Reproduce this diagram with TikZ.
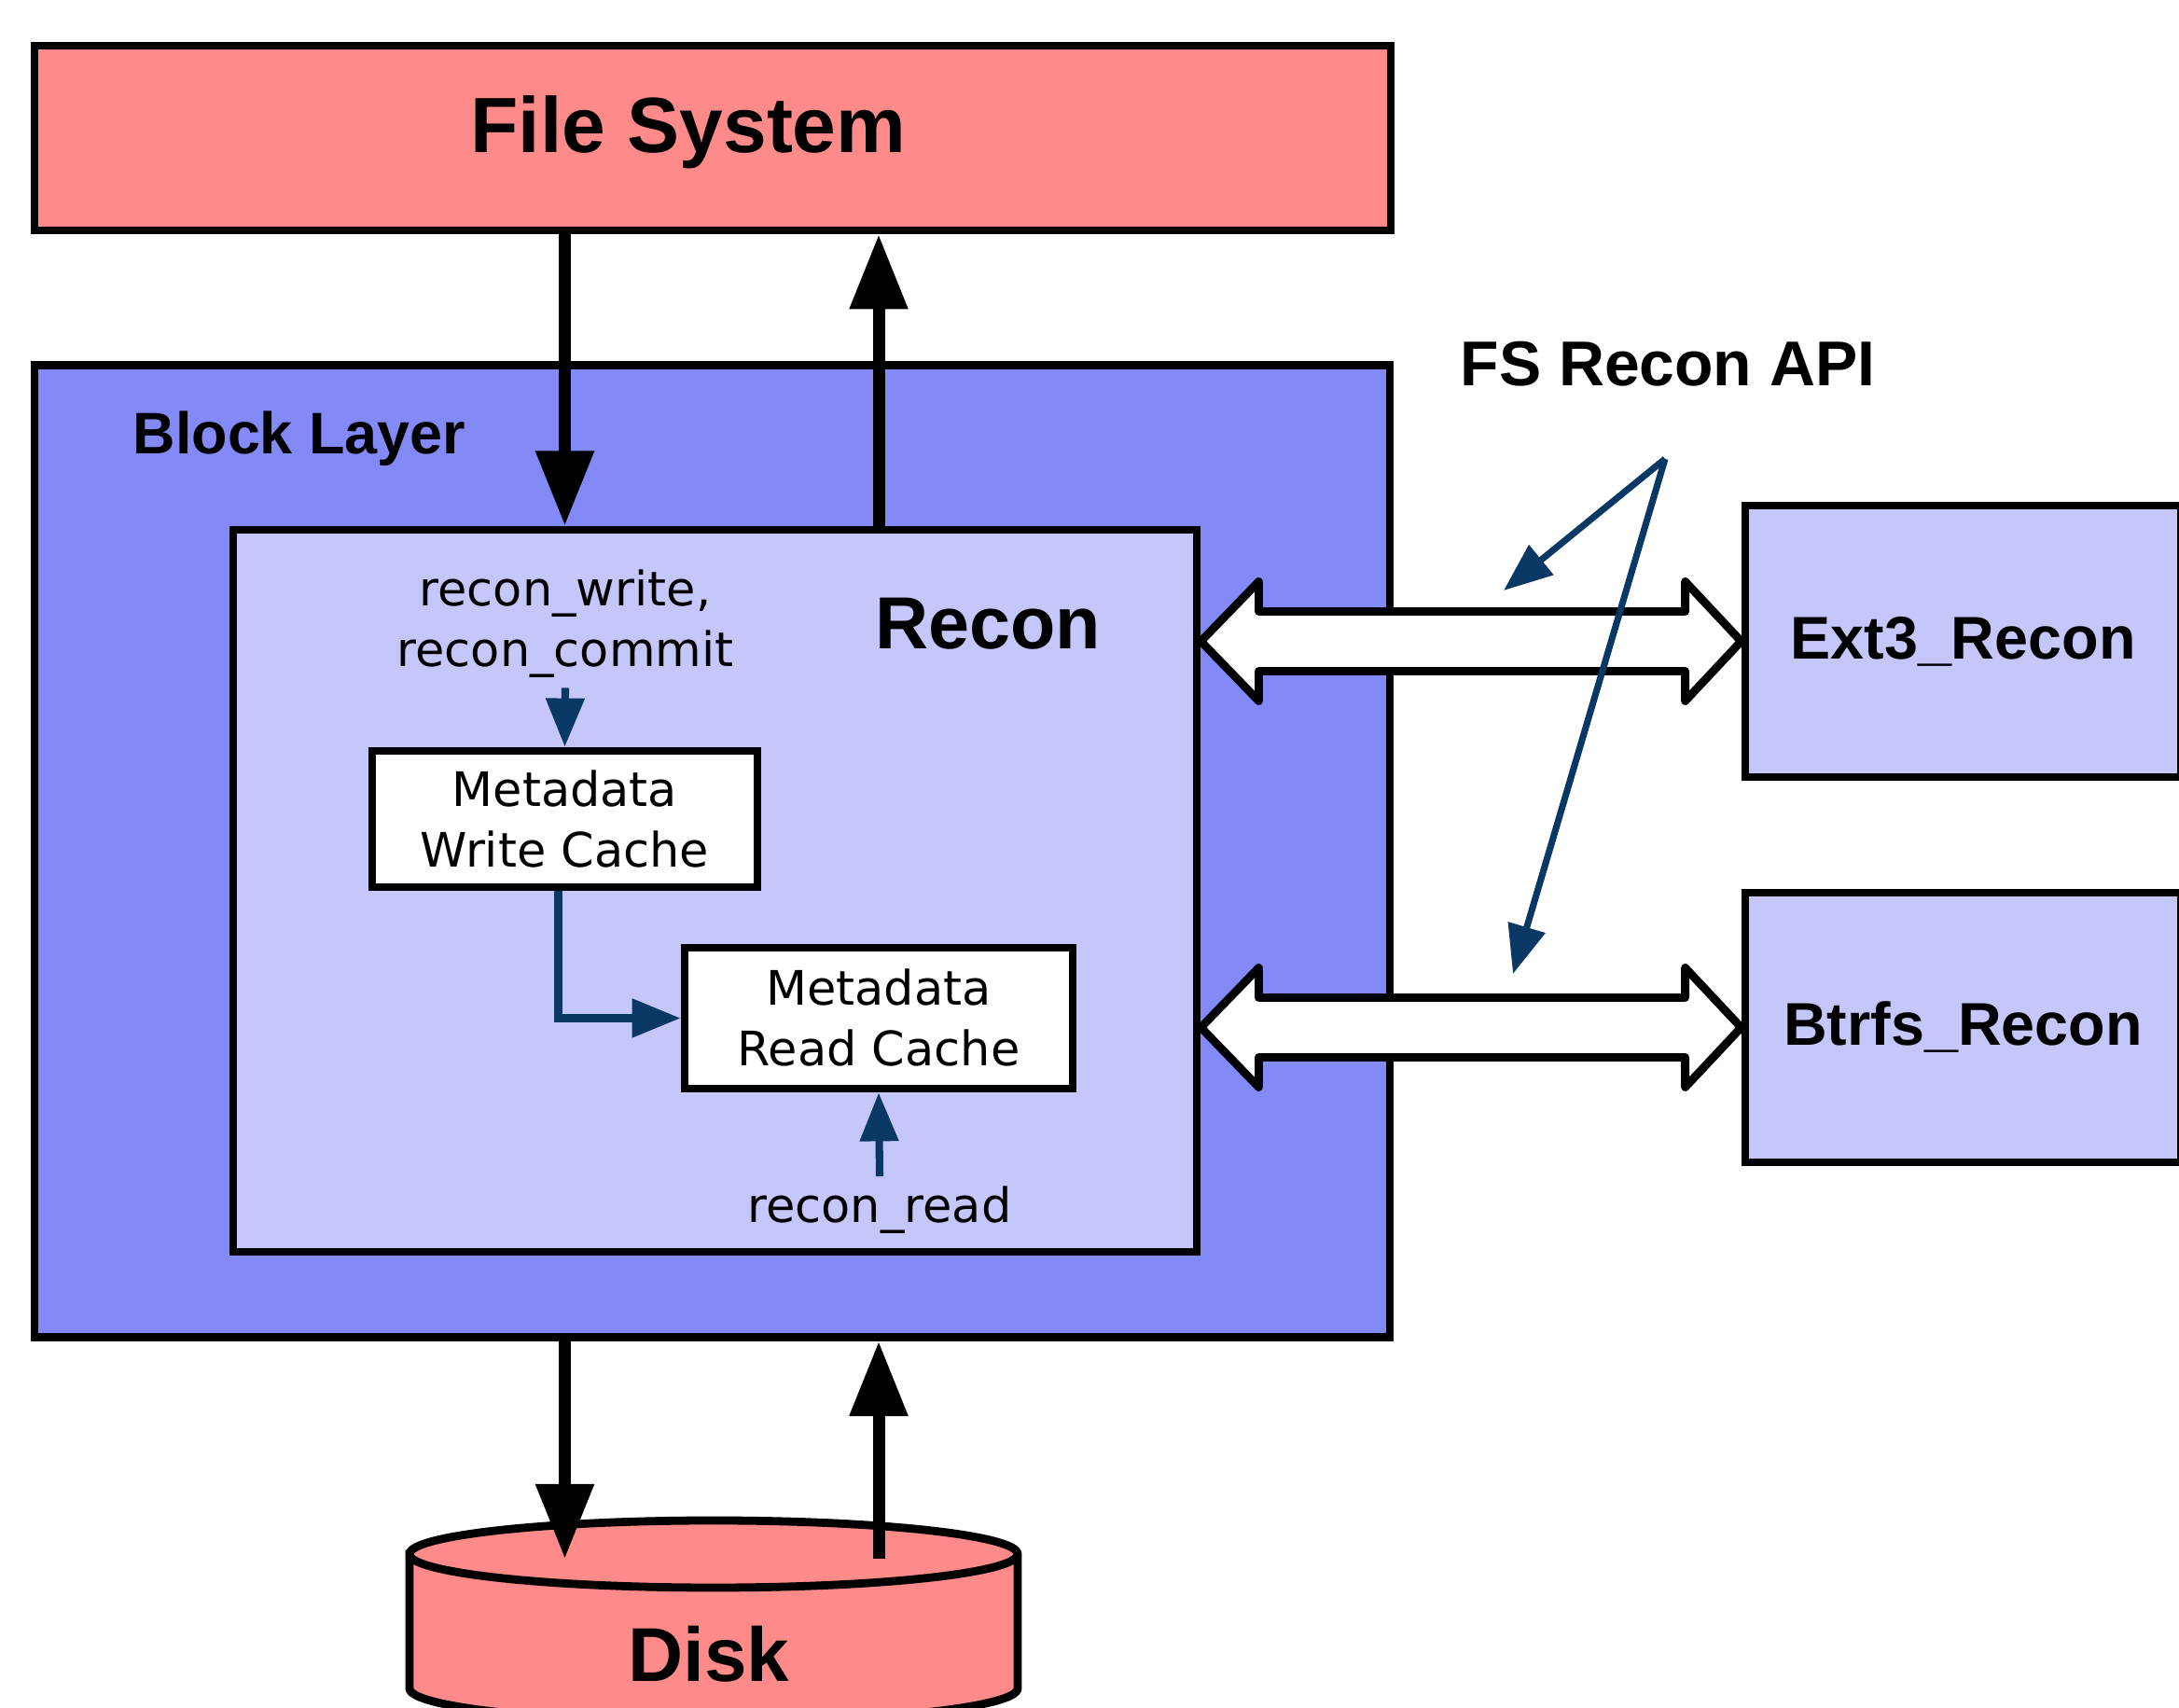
\documentclass[tikz,border=0pt]{standalone}
\usepackage{fontspec}
\setmainfont{Liberation Sans}
\newfontfamily\verafont{DejaVu Sans}
\usepackage{tikz}
\usetikzlibrary{arrows.meta, calc}
\definecolor{fsred}{RGB}{255,138,138}
\definecolor{blockblue}{RGB}{131,138,247}
\definecolor{reconblue}{RGB}{197,198,250}
\definecolor{apiblue}{RGB}{8,56,99}

\begin{document}
\begin{tikzpicture}[
    box/.style={draw, line width=2.5pt, fill=#1, inner sep=0pt},
    big/.style={font=\bfseries\fontsize{#1}{#1}\selectfont},
    small/.style={font=\verafont\fontsize{14.5}{18.5}\selectfont, align=center, inner sep=3pt},
    arr/.style={-{Triangle[width=17pt, length=22.8pt]}, line width=3.7pt},
    barr/.style={-{Triangle[width=11.4pt, length=14.8pt]}, line width=2.3pt, apiblue},
    fat/.style={draw, fill=white, line width=2.5pt, line join=round}
  ]
  \useasboundingbox (0,0) rectangle (23.36,18.31);

  \node[box=blockblue, minimum width=14.53cm, minimum height=10.42cm] (block) at (7.635,9.185) {};
  \node[big=17.9, anchor=base] (blocklbl) at (3.21,13.44) {Block Layer};
  \node[box=fsred, minimum width=14.54cm, minimum height=1.98cm] (fs) at (7.64,16.83) {};
  \node[big=23.9, anchor=base] (fslbl) at (7.38,16.67) {File System};
  \node[box=reconblue, minimum width=10.33cm, minimum height=7.74cm] (recon) at (7.665,8.76) {};
  \node[big=22.5, anchor=base] (reconlbl) at (10.59,11.35) {Recon};

  \node[small, box=white, minimum width=4.13cm, minimum height=1.46cm] (wcache) at (6.055,9.53) {Metadata\\Write Cache};
  \node[small, box=white, minimum width=4.16cm, minimum height=1.51cm] (rcache) at (9.42,7.395) {Metadata\\Read Cache};
  \node[small, anchor=south] (rwtext) at (6.06,10.935) {recon\_write,\\recon\_commit};
  \node[small, anchor=base] (rread) at (9.43,5.20) {recon\_read};

  \node[box=reconblue, big=18.4, minimum width=4.67cm, minimum height=2.91cm] (ext3) at (21.045,11.435) {Ext3\_Recon};
  \node[box=reconblue, big=18.4, minimum width=4.67cm, minimum height=2.89cm] (btrfs) at (21.045,7.295) {Btrfs\_Recon};

  % Disk
  \coordinate (disktop) at (7.65,1.60);
  \draw[fill=fsred, line width=2.5pt] (4.39,1.65) -- (4.39,0.21)
    arc[start angle=180, end angle=360, x radius=3.26, y radius=0.36] -- (10.91,1.65)
    arc[start angle=0, end angle=180, x radius=3.26, y radius=0.36] -- cycle;
  \draw[line width=2.5pt] (4.39,1.65) arc[start angle=180, end angle=360, x radius=3.26, y radius=0.36];
  \node[big=23.3, anchor=base] (disk) at (7.60,0.28) {Disk};

  % I/O path
  \draw[arr] (wcache |- fs.south) -- (wcache |- recon.north);
  \draw[arr] (rcache |- recon.north) -- (rcache |- fs.south);
  \draw[arr] (wcache |- block.south) -- (wcache |- disktop);
  \draw[arr] (rcache |- disktop) -- (rcache |- block.south);

  % Recon <-> fs modules
  \draw[fat] (recon.east |- ext3.west) -- ++(0.62,0.64) -- ++(0,-0.32)
    -- ($(ext3.west)+(-0.6,0.32)$) -- ++(0,0.32) -- (ext3.west) -- ++(-0.6,-0.64) -- ++(0,0.32)
    -- ($(recon.east |- ext3.west)+(0.62,-0.32)$) -- ++(0,-0.32) -- cycle;
  \draw[fat] (recon.east |- btrfs.west) -- ++(0.62,0.64) -- ++(0,-0.32)
    -- ($(btrfs.west)+(-0.6,0.32)$) -- ++(0,0.32) -- (btrfs.west) -- ++(-0.6,-0.64) -- ++(0,0.32)
    -- ($(recon.east |- btrfs.west)+(0.62,-0.32)$) -- ++(0,-0.32) -- cycle;

  % Cache flow
  \draw[barr] (rwtext.south) -- (wcache.north);
  \draw[barr] ([xshift=-0.07cm]wcache.south) |- (rcache.west);
  \draw[barr] (rread.north) -- (rcache.south);

  % API
  \node[big=19.3, anchor=base] (apilbl) at (17.88,14.17) {FS Recon API};
  \coordinate (fork) at (17.85,13.39);
  \coordinate (tipA) at (16.12,11.98);
  \coordinate (tipB) at (16.22,7.87);
  \draw[barr, line width=2pt] (fork) -- (tipA);
  \draw[barr, line width=2pt] (fork) -- (tipB);
\end{tikzpicture}
\end{document}
